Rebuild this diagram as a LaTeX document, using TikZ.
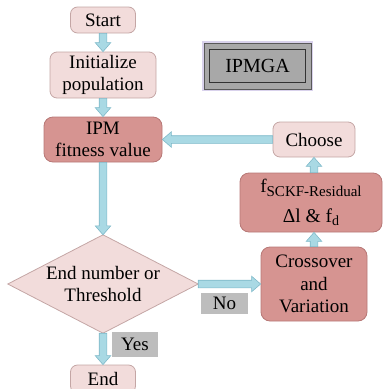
\documentclass[tikz,border=0pt]{standalone}
\usepackage{fontspec}
\setmainfont{Liberation Serif}
\usetikzlibrary{calc}
\definecolor{lightpink}{HTML}{F2DCDB}
\definecolor{lightpinkedge}{HTML}{C4A6A5}
\definecolor{darkpink}{HTML}{D69491}
\definecolor{darkpinkedge}{HTML}{B77876}
\definecolor{arrowfill}{HTML}{A9D9E4}
\definecolor{arrowedge}{HTML}{7DB8C8}
\definecolor{labelgray}{HTML}{BDBDBD}
\definecolor{badgegray}{HTML}{A8A8A8}
\definecolor{glow}{HTML}{D9D2EC}
\tikzset{
  txt/.style={font=\fontsize{19}{22.5}\selectfont, align=center, inner sep=0pt},
  lightbox/.style={txt, rounded corners=7pt, fill=lightpink, draw=lightpinkedge, line width=0.8pt},
  darkbox/.style={txt, rounded corners=9pt, fill=darkpink, draw=darkpinkedge, line width=0.8pt},
  graylabel/.style={txt, fill=labelgray},
  fatarrowstyle/.style={fill=arrowfill, draw=arrowedge, line width=0.6pt, line join=miter},
}
\newcommand\fatarrow[2]{%
  \path (#1) coordinate (faS) (#2) coordinate (faE);
  \path ($(faE)!9pt!(faS)$) coordinate (faH);
  \filldraw[fatarrowstyle] ($(faS)!3.8pt!90:(faE)$) -- ($(faH)!3.8pt!-90:(faS)$) -- ($(faH)!7.8pt!-90:(faS)$) -- (faE) -- ($(faH)!7.8pt!90:(faS)$) -- ($(faH)!3.8pt!90:(faS)$) -- ($(faS)!3.8pt!-90:(faE)$) -- cycle;
}
\begin{document}
\begin{tikzpicture}[x=1pt,y=-1pt]
\useasboundingbox (0,0) rectangle (384,389);
\clip (0,0) rectangle (384,389);
% nodes
\node[lightbox, minimum width=65pt, minimum height=26pt] (start) at (103,20) {Start};
\node[lightbox, minimum width=106pt, minimum height=46pt] (init) at (103,75) {Initialize\\population};
\node[darkbox, minimum width=118pt, minimum height=45pt] (ipm) at (103,139.5) {IPM\\fitness value};
\node[lightbox, minimum width=82pt, minimum height=35pt] (choose) at (314,139.5) {Choose};
\node[darkbox, minimum width=142pt, minimum height=59pt] (fsckf) at (311,202.5) {f{\fontsize{15}{15}\selectfont\raisebox{-4pt}{SCKF-Residual}}\\[7pt]\fontsize{19.5}{22}\selectfont Δl \& f{\fontsize{14}{14}\selectfont\raisebox{-3pt}{d}}};
\node[darkbox, minimum width=106pt, minimum height=74pt] (cross) at (314,284) {Crossover\\and\\Variation};
% decision diamond
\node[inner sep=0pt, minimum width=190pt, minimum height=98pt] (dec) at (103,284) {};
\filldraw[fill=lightpink, draw=lightpinkedge, line width=0.8pt] (dec.north) -- (dec.east) -- (dec.south) -- (dec.west) -- cycle;
\node[txt] (dectext) at (dec.center) {End number or\\Threshold};
\node[lightbox, minimum width=65pt, minimum height=28pt] (end) at (103,379) {End};
\node[graylabel, minimum width=46pt, minimum height=25pt] (yes) at (135,344.5) {Yes};
\node[graylabel, minimum width=47pt, minimum height=21pt] (no) at (224.5,303.5) {No};
% IPMGA badge
\node[txt, minimum width=107pt, minimum height=46pt, fill=badgegray, draw=gray!70!black, line width=0.6pt,
      preaction={draw=glow, line width=4pt}] (ipmga) at (257.5,66) {};
\node[txt, font=\fontsize{20}{22}\selectfont, minimum width=96pt, minimum height=33pt, draw=gray!40!black, line width=0.7pt] (ipmgain) at (ipmga.center) {IPMGA};
% arrows
\fatarrow{start.south}{init.north}
\fatarrow{init.south}{ipm.north}
\fatarrow{ipm.south}{dec.north}
\fatarrow{dec.east}{cross.west}
\fatarrow{cross.north}{cross.north |- fsckf.south}
\fatarrow{choose.south |- fsckf.north}{choose.south}
\fatarrow{choose.west}{ipm.east}
\fatarrow{dec.south}{end.north}
\end{tikzpicture}
\end{document}
